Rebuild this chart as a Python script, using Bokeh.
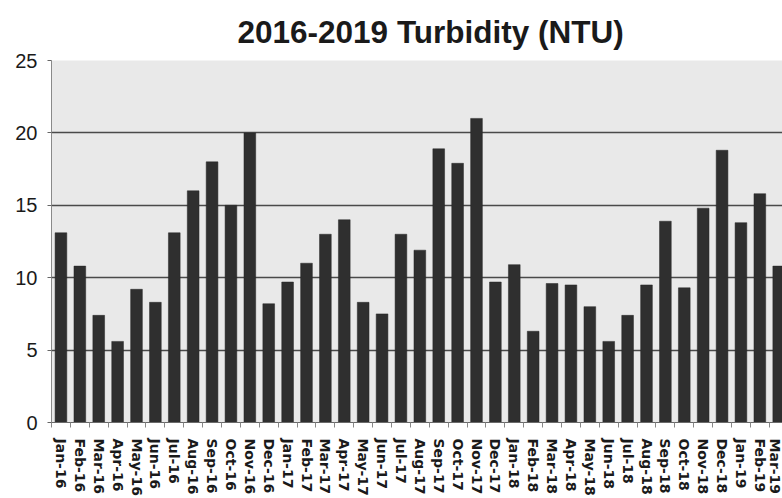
import math
from bokeh.plotting import figure
from bokeh.models import Range1d, FixedTicker, Grid, ColumnDataSource
from bokeh.embed import file_html
from bokeh.resources import INLINE

months = ["Jan-16", "Feb-16", "Mar-16", "Apr-16", "May-16", "Jun-16",
          "Jul-16", "Aug-16", "Sep-16", "Oct-16", "Nov-16", "Dec-16",
          "Jan-17", "Feb-17", "Mar-17", "Apr-17", "May-17", "Jun-17",
          "Jul-17", "Aug-17", "Sep-17", "Oct-17", "Nov-17", "Dec-17",
          "Jan-18", "Feb-18", "Mar-18", "Apr-18", "May-18", "Jun-18",
          "Jul-18", "Aug-18", "Sep-18", "Oct-18", "Nov-18", "Dec-18",
          "Jan-19", "Feb-19", "Mar-19"]
turbidity = [13.1, 10.8, 7.4, 5.6, 9.2, 8.3,
             13.1, 16.0, 18.0, 15.0, 20.0, 8.2,
             9.7, 11.0, 13.0, 14.0, 8.3, 7.5,
             13.0, 11.9, 18.9, 17.9, 21.0, 9.7,
             10.9, 6.3, 9.6, 9.5, 8.0, 5.6,
             7.4, 9.5, 13.9, 9.3, 14.8, 18.8,
             13.8, 15.8, 10.8]
y_ticks = [0, 5, 10, 15, 20, 25]
grid_ticks = [5, 10, 15, 20]
title_text = "2016-2019 Turbidity (NTU)"

idx = list(range(len(months)))
source = ColumnDataSource(dict(x=idx, top=turbidity))

p = figure(width=782, height=498, output_backend="svg", toolbar_location=None,
           x_range=Range1d(-0.5, 38.2), y_range=Range1d(0, 25),
           min_border_left=51, min_border_right=0, min_border_top=60,
           min_border_bottom=76, title=title_text)

p.background_fill_color = "#e9e9e9"
p.border_fill_color = "white"
p.outline_line_color = None

p.title.text_font = "Liberation Sans"
p.title.text_font_style = "bold"
p.title.text_font_size = "31.5px"
p.title.text_color = "#1a1a1a"
p.title.align = "left"
p.title.offset = 186
p.title.standoff = 21

p.vbar(x="x", top="top", width=0.62, source=source,
       fill_color="#2f2f2f", line_color="#262626", line_width=0.5)

# grids
p.xgrid.visible = False
p.ygrid.visible = False
g = Grid(dimension=1, ticker=FixedTicker(ticks=grid_ticks),
         grid_line_color="#4a4a4a", grid_line_width=1.3)
p.add_layout(g)

# y axis
p.yaxis.ticker = FixedTicker(ticks=y_ticks)
p.yaxis.axis_line_color = "#8a8a8a"
p.yaxis.major_tick_line_color = "#666666"
p.yaxis.major_tick_out = 4
p.yaxis.major_tick_in = 0
p.yaxis.minor_tick_line_color = None
p.yaxis.major_label_text_font = "Liberation Sans"
p.yaxis.major_label_text_font_size = "20px"
p.yaxis.major_label_text_color = "#1a1a1a"
p.yaxis.major_label_standoff = 10

# x axis
p.xaxis.ticker = FixedTicker(ticks=idx, minor_ticks=[i - 0.5 for i in idx] + [idx[-1] + 0.5])
p.xaxis.major_label_overrides = {i: m for i, m in zip(idx, months)}
p.xaxis.major_label_orientation = -math.pi / 2
p.xaxis.axis_line_color = "#6a6a6a"
p.xaxis.major_tick_line_color = None
p.xaxis.major_tick_out = 0
p.xaxis.major_tick_in = 0
p.xaxis.minor_tick_line_color = "#888888"
p.xaxis.minor_tick_out = 5
p.xaxis.minor_tick_in = 0
p.xaxis.major_label_text_font = "DejaVu Sans"
p.xaxis.major_label_text_font_style = "bold"
p.xaxis.major_label_text_font_size = "14px"
p.xaxis.major_label_text_color = "#1a1a1a"
p.xaxis.major_label_standoff = 11

open("out.html", "w").write(file_html(p, INLINE))
